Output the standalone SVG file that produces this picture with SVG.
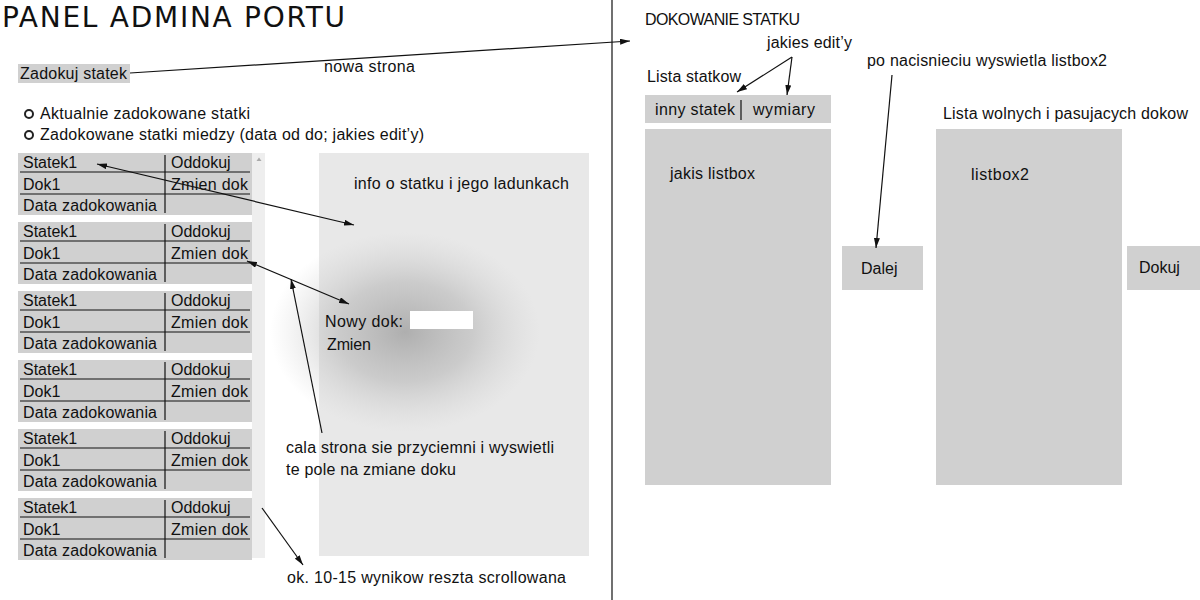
<svg xmlns="http://www.w3.org/2000/svg" width="1200" height="600" viewBox="0 0 1200 600">
<style>
.t{font-family:"Liberation Sans",Arial,sans-serif;font-size:16px;fill:#111}
.title{font-family:"DejaVu Sans",Verdana,sans-serif;font-size:28px;fill:#111}
.g{fill:#d0d0d0}
.ln{stroke:#111;stroke-width:1.2;fill:none}
.ar{stroke:#111;stroke-width:1.2;fill:none;marker-end:url(#ah)}
.ar2{stroke:#111;stroke-width:1.2;fill:none;marker-end:url(#ah);marker-start:url(#ah)}
</style>
<defs>
<marker id="ah" viewBox="0 0 10 6" refX="10" refY="3" markerWidth="10" markerHeight="6" markerUnits="userSpaceOnUse" orient="auto-start-reverse">
<path d="M0,0 L10,3 L0,6 z" fill="#111"/>
</marker>
<radialGradient id="shadow" cx="0.5" cy="0.5" r="0.5">
<stop offset="0" stop-color="#a8a8a8" stop-opacity="0.9"/>
<stop offset="0.5" stop-color="#b8b8b8" stop-opacity="0.6"/>
<stop offset="1" stop-color="#cfcfcf" stop-opacity="0"/>
</radialGradient>
<g id="blk">
<rect x="18" y="0" width="234" height="62" class="g"/>
<line x1="20" y1="19" x2="250" y2="19" class="ln"/>
<line x1="20" y1="41" x2="250" y2="41" class="ln"/>
<line x1="165" y1="2" x2="165" y2="60" class="ln"/>
<text x="23" y="15" class="t">Statek1</text>
<text x="171" y="15" class="t">Oddokuj</text>
<text x="23" y="37" class="t">Dok1</text>
<text x="171" y="37" class="t" textLength="77">Zmien dok</text>
<text x="23" y="58" class="t" textLength="134">Data zadokowania</text>
</g>
</defs>
<rect width="1200" height="600" fill="#fff"/>

<g id="title"><text x="2" y="27" class="title" textLength="343">PANEL ADMINA PORTU</text></g>

<g id="zadokuj">
<rect x="18" y="64" width="112" height="19" class="g"/>
<text x="20" y="79" class="t" textLength="107">Zadokuj statek</text>
</g>
<g id="nowa-strona-label"><text x="324" y="72" class="t" textLength="91">nowa strona</text></g>

<g id="radios">
<circle cx="29" cy="114" r="4" fill="none" stroke="#222" stroke-width="2"/>
<text x="40" y="119" class="t" textLength="210">Aktualnie zadokowane statki</text>
<circle cx="29" cy="135" r="4" fill="none" stroke="#222" stroke-width="2"/>
<text x="40" y="140" class="t" textLength="384">Zadokowane statki miedzy (data od do; jakies edit’y)</text>
</g>

<g id="scrollbar">
<rect x="252" y="153" width="13" height="405" fill="#eeeeee"/>
<path d="M256.5,161 L259,157.5 L261.5,161 z" fill="#aaa"/>
</g>

<g id="list">
<use href="#blk" y="153"/>
<use href="#blk" y="222"/>
<use href="#blk" y="291"/>
<use href="#blk" y="360"/>
<use href="#blk" y="429"/>
<use href="#blk" y="498"/>
</g>

<g id="info-panel">
<rect x="319" y="153" width="270" height="403" fill="#e8e8e8"/>
<ellipse cx="405" cy="332" rx="135" ry="100" fill="url(#shadow)"/>
<text x="354" y="189" class="t" textLength="215">info o statku i jego ladunkach</text>
</g>

<g id="popup">
<text x="325" y="327" class="t" textLength="78">Nowy dok:</text>
<rect x="410" y="311" width="63" height="18" fill="#fff"/>
<text x="327" y="350" class="t" textLength="44">Zmien</text>
</g>

<g id="notes-left">
<text x="286" y="453" class="t" textLength="268">cala strona sie przyciemni i wyswietli</text>
<text x="286" y="475" class="t" textLength="170">te pole na zmiane doku</text>
<text x="287" y="583" class="t" textLength="279">ok. 10-15 wynikow reszta scrollowana</text>
</g>

<g id="divider"><line x1="612" y1="0" x2="612" y2="600" stroke="#111" stroke-width="1.2"/></g>

<g id="dokowanie">
<text x="645" y="25" class="t" font-size="15" textLength="155">DOKOWANIE STATKU</text>
<text x="767" y="48" class="t" textLength="85">jakies edit’y</text>
<text x="647" y="82" class="t" textLength="94">Lista statkow</text>
</g>
<g id="filter-bar">
<rect x="645" y="95" width="186" height="28" class="g"/>
<text x="655" y="115" class="t" textLength="80">inny statek</text>
<line x1="741" y1="100" x2="741" y2="120" class="ln"/>
<text x="753" y="115" class="t" textLength="62">wymiary</text>
</g>
<g id="listbox1">
<rect x="645" y="129" width="186" height="356" class="g"/>
<text x="670" y="179" class="t" textLength="85">jakis listbox</text>
</g>
<g id="note-right"><text x="867" y="66" class="t" textLength="240">po nacisnieciu wyswietla listbox2</text></g>
<g id="dalej">
<rect x="842" y="246" width="81" height="44" class="g"/>
<text x="861" y="274" class="t">Dalej</text>
</g>
<g id="listbox2">
<text x="943" y="119" class="t" textLength="245">Lista wolnych i pasujacych dokow</text>
<rect x="936" y="129" width="186" height="356" class="g"/>
<text x="971" y="180" class="t" textLength="58">listbox2</text>
</g>
<g id="dokuj">
<rect x="1127" y="246" width="73" height="44" class="g"/>
<text x="1139" y="273" class="t">Dokuj</text>
</g>

<g id="connectors">
<line x1="130" y1="73" x2="630" y2="41" class="ar"/>
<line x1="97" y1="164" x2="354" y2="225" class="ar2"/>
<line x1="247" y1="261" x2="349" y2="304" class="ar2"/>
<line x1="322" y1="433" x2="291" y2="279" class="ar"/>
<line x1="262" y1="508" x2="303" y2="565" class="ar"/>
<line x1="792" y1="57" x2="737" y2="92" class="ar"/>
<line x1="792" y1="57" x2="787" y2="95" class="ar"/>
<line x1="892" y1="75" x2="876" y2="248" class="ar"/>
</g>
</svg>
